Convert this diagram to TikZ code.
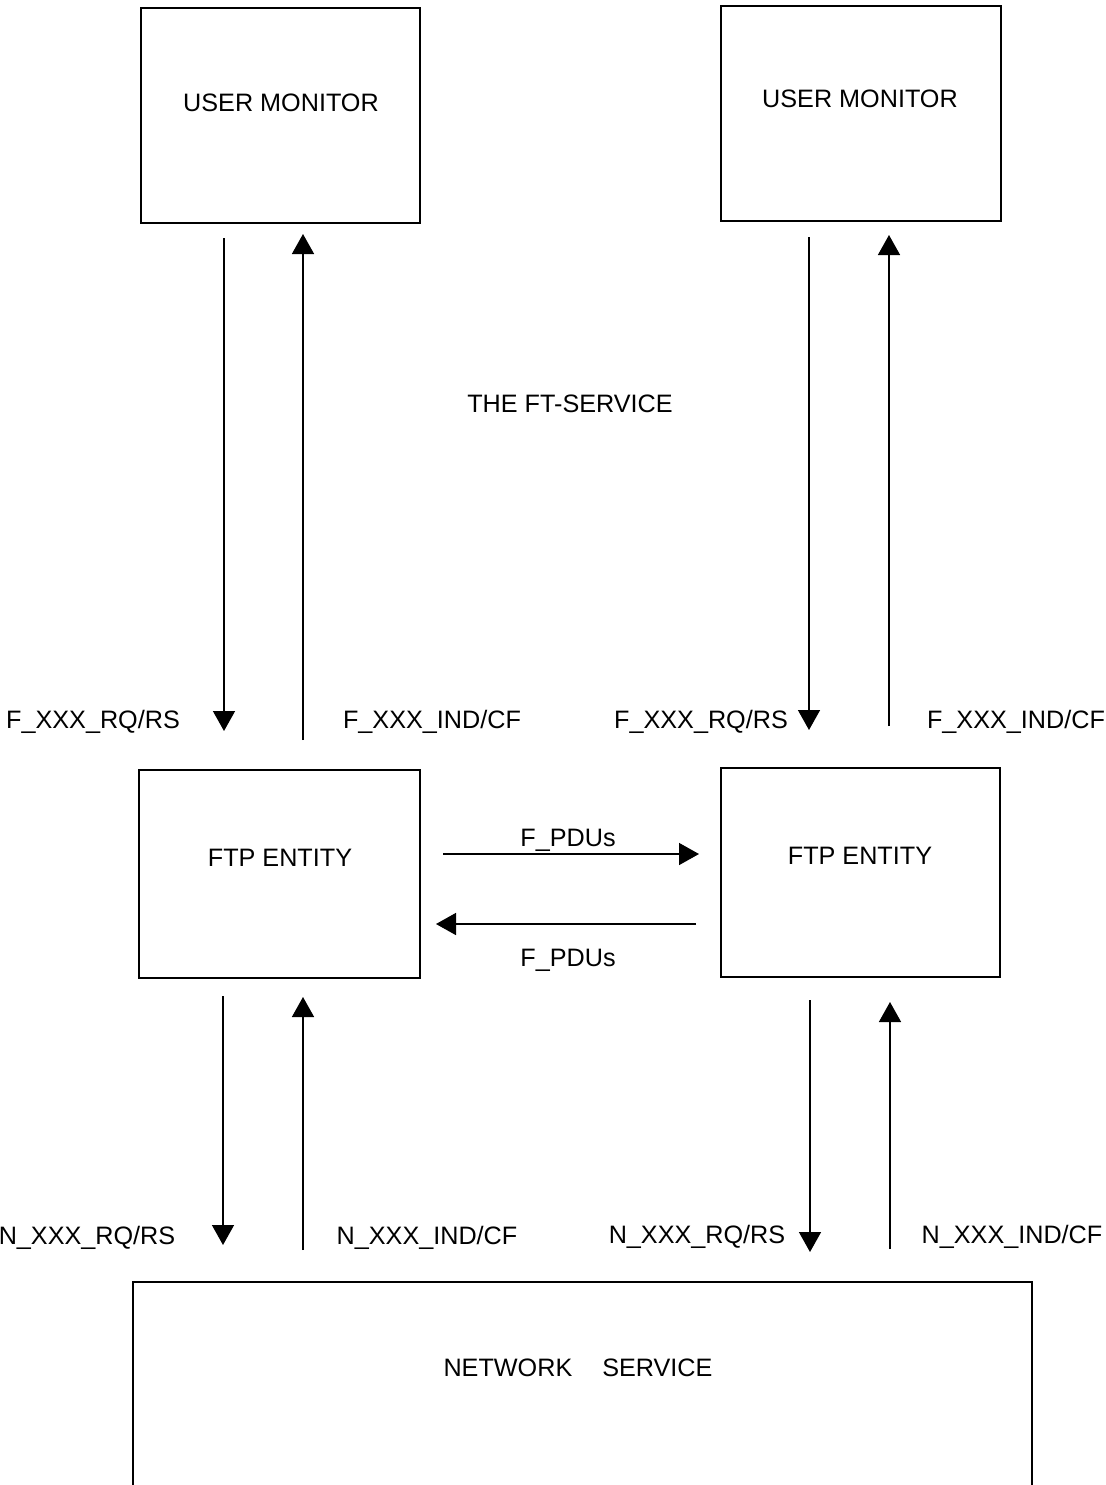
\documentclass[tikz,border=0pt]{standalone}
\usepackage{fontspec}
\setmainfont{Liberation Sans}
\usetikzlibrary{arrows.meta}
\begin{document}
\begin{tikzpicture}[x=0.5pt,y=-0.5pt,
  box/.style={draw,line width=0.8pt,inner sep=0pt,outer sep=0pt},
  txt/.style={inner sep=0pt,anchor=base,font=\fontsize{12.6}{14}\selectfont},
  flow/.style={line width=0.75pt,-{Triangle[length=10pt,width=11pt]}}]
\useasboundingbox (0,0) rectangle (1105,1485);

% boxes
\node[box,minimum width=139.5pt,minimum height=107.5pt] (um1) at (280.5,115.5) {};
\node[box,minimum width=140pt,minimum height=107.5pt] (um2) at (861,113.5) {};
\node[box,minimum width=140.5pt,minimum height=104pt] (fe1) at (279.5,874) {};
\node[box,minimum width=139.5pt,minimum height=104.5pt] (fe2) at (860.5,872.5) {};
\begin{scope}
  \clip (0,0) rectangle (1105,1485);
  \node[box,minimum width=449.5pt,minimum height=120pt] (ns) at (582.5,1402) {};
\end{scope}

% box texts
\node[txt] (um1t) at (281,111) {USER MONITOR};
\node[txt] (um2t) at (860,107) {USER MONITOR};
\node[txt] (fe1t) at (280,866) {FTP ENTITY};
\node[txt] (fe2t) at (860,864) {FTP ENTITY};
\node[txt] (nst) at (578,1376) {NETWORK\hspace{15pt}SERVICE};
\node[txt] (fts) at (570,412) {THE FT-SERVICE};

% arrow end points
\coordinate (d1a) at (224,238);  \coordinate (d1b) at (224,731);
\coordinate (u1a) at (303,740);  \coordinate (u1b) at (303,234);
\coordinate (d2a) at (809,237);  \coordinate (d2b) at (809,730);
\coordinate (u2a) at (889,726);  \coordinate (u2b) at (889,235);
\coordinate (pra) at (443,854);  \coordinate (prb) at (699,854);
\coordinate (pla) at (696,924);  \coordinate (plb) at (436,924);
\coordinate (d3a) at (223,996);  \coordinate (d3b) at (223,1245);
\coordinate (u3a) at (303,1250); \coordinate (u3b) at (303,997);
\coordinate (d4a) at (810,1000); \coordinate (d4b) at (810,1252);
\coordinate (u4a) at (890,1249); \coordinate (u4b) at (890,1002);

% primitives between user monitors and FTP entities
\draw[flow] (d1a) -- (d1b);
\draw[flow] (u1a) -- (u1b);
\draw[flow] (d2a) -- (d2b);
\draw[flow] (u2a) -- (u2b);
% peer protocol data units
\draw[flow] (pra) -- (prb);
\draw[flow] (pla) -- (plb);
% primitives between FTP entities and the network service
\draw[flow] (d3a) -- (d3b);
\draw[flow] (u3a) -- (u3b);
\draw[flow] (d4a) -- (d4b);
\draw[flow] (u4a) -- (u4b);

% labels
\node[txt] (l1) at (93,728) {F\_XXX\_RQ/RS};
\node[txt] (l2) at (432,728) {F\_XXX\_IND/CF};
\node[txt] (l3) at (701,728) {F\_XXX\_RQ/RS};
\node[txt] (l4) at (1016,728) {F\_XXX\_IND/CF};
\node[txt] (p1) at (568,846) {F\_PDUs};
\node[txt] (p2) at (568,966) {F\_PDUs};
\node[txt] (n1) at (87,1244) {N\_XXX\_RQ/RS};
\node[txt] (n2) at (427,1244) {N\_XXX\_IND/CF};
\node[txt] (n3) at (697,1243) {N\_XXX\_RQ/RS};
\node[txt] (n4) at (1012,1243) {N\_XXX\_IND/CF};
\end{tikzpicture}
\end{document}
